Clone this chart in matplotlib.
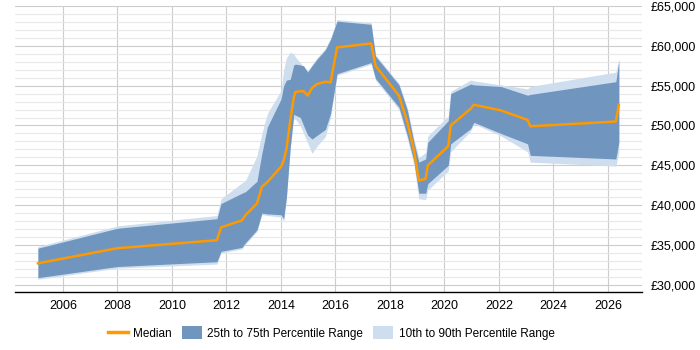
import matplotlib
matplotlib.use("Agg")
import numpy as np
import matplotlib.pyplot as plt
from matplotlib.patches import Patch
from matplotlib.lines import Line2D
from matplotlib.ticker import MultipleLocator, FuncFormatter

plt.rcParams['font.family'] = ['Liberation Sans', 'DejaVu Sans']

# decimal years
dates = [2005.08, 2008.0, 2011.65, 2011.8, 2012.57, 2012.7, 2013.12, 2013.3, 2013.5,
         2014.0, 2014.1, 2014.2, 2014.34, 2014.47, 2014.53, 2014.71, 2014.83, 2014.98,
         2015.14, 2015.32, 2015.63, 2015.82, 2016.06, 2017.31, 2017.47, 2018.33,
         2018.64, 2018.88, 2019.06, 2019.31, 2019.39, 2020.14, 2020.23, 2020.96,
         2021.08, 2022.07, 2023.05, 2023.15, 2026.29, 2026.4]

median = [32700, 34600, 35600, 37200, 38100, 38750, 40200, 42300, 42900,
          44800, 45600, 47000, 50600, 53500, 54200, 54300, 54300, 53750,
          54700, 55200, 55500, 55400, 59800, 60300, 57500, 53750,
          50400, 46900, 43100, 43300, 45000, 47400, 50000, 52100,
          52600, 51900, 50700, 49900, 50500, 52600]

p75 = [34600, 37100, 38300, 40200, 41500, 41700, 43000, 46500, 49800,
       53300, 55000, 55700, 55800, 57600, 57700, 57600, 57500, 56700,
       57500, 58300, 59500, 60800, 63100, 62700, 58700, 55100,
       51900, 47900, 45400, 45800, 47900, 50600, 54000, 55200,
       55100, 54900, 53800, 53900, 55500, 58100]

p90 = [34800, 37400, 38700, 40800, 42800, 43100, 46200, 49000, 51500,
       54400, 57000, 58500, 59200, 59000, 58600, 57900, 57300, 56900,
       57600, 58500, 59700, 61000, 63300, 62900, 58900, 55300,
       52200, 48300, 46000, 46600, 48700, 51200, 54300, 55700,
       55600, 55100, 54600, 54900, 56700, 58400]

p25 = [30900, 32300, 32900, 34200, 34700, 35300, 36900, 39000, 38900,
       38800, 38300, 41000, 47200, 51400, 51300, 51000, 50000, 48800,
       48300, 48750, 49500, 51500, 56500, 57900, 55900, 52300,
       48700, 45500, 41500, 41500, 42700, 45000, 47700, 49600,
       50400, 49000, 47700, 46250, 45800, 47900]

p10 = [30700, 32100, 32600, 34000, 34500, 35100, 36700, 38800, 38700,
       38500, 38000, 40800, 47000, 50800, 50800, 50000, 49000, 47800,
       46500, 47400, 48600, 51000, 56300, 57700, 55700, 52000,
       48300, 45000, 40800, 40700, 41900, 44300, 46700, 49300,
       50200, 48700, 46700, 45400, 44900, 46700]

year_ticks = list(range(2006, 2027, 2))

dark_blue = '#7096bf'
light_blue = '#cfdeee'
orange = '#ff9900'

fig = plt.figure(figsize=(7, 3.5), dpi=100)
ax = fig.add_axes([15/700, 1 - 292/350, 627/700, 286/350])

ax.fill_between(dates, p10, p90, color=light_blue, lw=0)
ax.fill_between(dates, p25, p75, color=dark_blue, lw=0)
ax.plot(dates, median, color=orange, lw=1.8)

ax.set_xlim(2004.24, 2027.25)
ax.set_ylim(29100, 65000)

ax.set_xticks(year_ticks)
ax.xaxis.set_major_formatter(FuncFormatter(lambda v, p: str(int(v))))
ax.yaxis.set_major_locator(MultipleLocator(5000))
ax.yaxis.set_minor_locator(MultipleLocator(1000))
ax.yaxis.set_major_formatter(FuncFormatter(lambda v, p: '£{:,.0f}'.format(v)))
ax.yaxis.tick_right()
ax.tick_params(axis='y', which='both', length=0, labelsize=9, pad=6)
ax.tick_params(axis='x', length=0, labelsize=9, pad=6)

ax.grid(axis='x', color='#cccccc', lw=0.8)
ax.grid(axis='y', which='major', color='#cccccc', lw=0.8)
ax.grid(axis='y', which='minor', color='#e8e8e8', lw=0.8)
ax.set_axisbelow(True)

for s in ['top', 'left', 'right']:
    ax.spines[s].set_visible(False)
ax.spines['bottom'].set_color('black')
ax.spines['bottom'].set_linewidth(1)

handles = [Line2D([], [], color=orange, lw=2.5),
           Patch(color=dark_blue, lw=0),
           Patch(color=light_blue, lw=0)]
labels = ['Median', '25th to 75th Percentile Range', '10th to 90th Percentile Range']
fig.legend(handles, labels, loc='center', bbox_to_anchor=(0.473, 1 - 333/350), ncol=3,
           frameon=False, fontsize=8.5, handlelength=1.7, handleheight=1.35,
           columnspacing=0.85, handletextpad=0.45)

fig.savefig('out.png', dpi=100)
